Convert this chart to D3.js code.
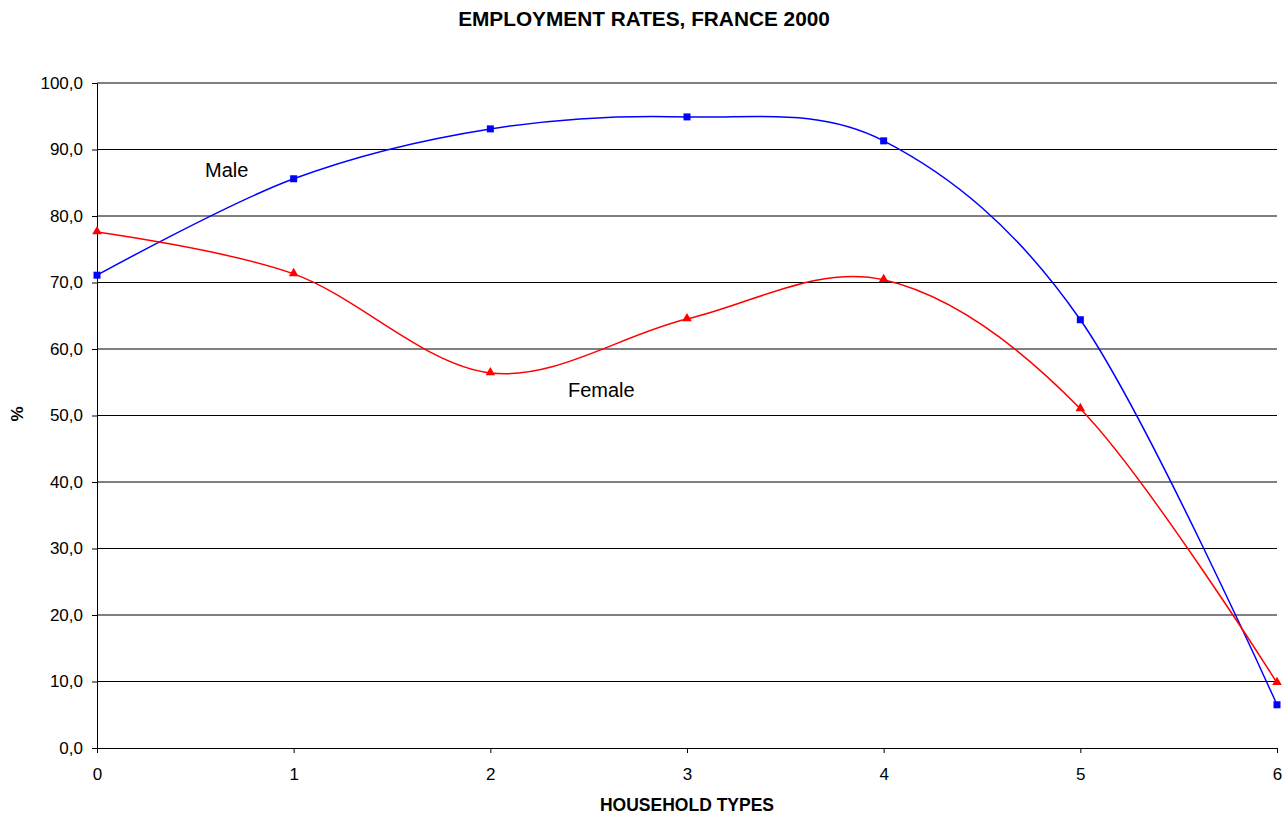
<!DOCTYPE html>
<html>
<head>
<meta charset="utf-8">
<script src="https://cdn.jsdelivr.net/npm/d3@7"></script>
<style>
  body { margin: 0; background: #fff; font-family: "Liberation Sans", Arial, sans-serif; }
</style>
</head>
<body>
<div id="chart"></div>
<script>
// data
var householdTypes = [0, 1, 2, 3, 4, 5, 6];
var maleRates   = [71.1, 85.6, 93.1, 94.9, 91.3, 64.4, 6.5];
var femaleRates = [77.6, 71.3, 56.4, 64.5, 70.4, 51.0, 9.8];
var yTicks = [0, 10, 20, 30, 40, 50, 60, 70, 80, 90, 100];

var W = 1287, H = 814;
var margin = {top: 83, right: 10, bottom: 66, left: 97},
    width = W - margin.left - margin.right,
    height = H - margin.top - margin.bottom;

var svg = d3.select("#chart")
  .append("svg")
    .attr("width", W)
    .attr("height", H);

var g = svg.append("g")
    .attr("transform", "translate(" + margin.left + "," + margin.top + ")");

var x = d3.scaleLinear().domain([0, 6]).range([0, 1180]);
var y = d3.scaleLinear().domain([0, 100]).range([height, 0]);

var fmt = function(d) { return d3.format(".1f")(d).replace(".", ","); };

// gridlines
g.selectAll(".grid")
  .data(yTicks.slice(1))
  .enter()
  .append("line")
    .attr("x1", 0)
    .attr("x2", x(6))
    .attr("y1", function(d) { return y(d); })
    .attr("y2", function(d) { return y(d); })
    .attr("stroke", "#000")
    .attr("stroke-width", 1);

// Y axis
var yAxis = g.append("g")
  .call(d3.axisLeft(y).tickValues(yTicks).tickFormat(fmt).tickSizeOuter(0).tickSize(5).tickPadding(9));
yAxis.selectAll("text").style("font-size", "17px").style("font-family", "Liberation Sans, Arial, sans-serif").attr("fill", "#000");

// X axis
var xAxis = g.append("g")
  .attr("transform", "translate(0," + height + ")")
  .call(d3.axisBottom(x).tickValues(householdTypes).tickFormat(d3.format("d")).tickSizeOuter(0).tickSize(5).tickPadding(15));
xAxis.selectAll("text").style("font-size", "17px").style("font-family", "Liberation Sans, Arial, sans-serif").attr("fill", "#000");

svg.selectAll(".domain").attr("stroke", "#000");

// smooth lines
var line = d3.line()
  .x(function(d, i) { return x(householdTypes[i]); })
  .y(function(d) { return y(d); })
  .curve(d3.curveCardinal.tension(0));

g.append("path")
  .datum(maleRates)
  .attr("d", line)
  .attr("fill", "none")
  .attr("stroke", "#0000FF")
  .attr("stroke-width", 1.5);

g.append("path")
  .datum(femaleRates)
  .attr("d", line)
  .attr("fill", "none")
  .attr("stroke", "#FF0000")
  .attr("stroke-width", 1.5);

// markers
g.selectAll(".mMale")
  .data(maleRates)
  .enter()
  .append("rect")
    .attr("x", function(d, i) { return x(householdTypes[i]) - 3.5; })
    .attr("y", function(d) { return y(d) - 3.5; })
    .attr("width", 7)
    .attr("height", 7)
    .attr("fill", "#0000FF");

var tri = d3.symbol().type(d3.symbolTriangle).size(40);
g.selectAll(".mFemale")
  .data(femaleRates)
  .enter()
  .append("path")
    .attr("d", tri)
    .attr("transform", function(d, i) { return "translate(" + x(householdTypes[i]) + "," + (y(d) - 0.5) + ")"; })
    .attr("fill", "#FF0000");

// series labels
svg.append("text")
  .attr("x", 205).attr("y", 177)
  .style("font-size", "20px")
  .text("Male");

svg.append("text")
  .attr("x", 568).attr("y", 397)
  .style("font-size", "20px")
  .text("Female");

// title
svg.append("text")
  .attr("x", 644).attr("y", 26)
  .attr("text-anchor", "middle")
  .style("font-size", "20.8px")
  .style("font-weight", "bold")
  .text("EMPLOYMENT RATES, FRANCE 2000");

// axis titles
svg.append("text")
  .attr("x", 687).attr("y", 811)
  .attr("text-anchor", "middle")
  .style("font-size", "17.5px")
  .style("font-weight", "bold")
  .text("HOUSEHOLD TYPES");

svg.append("text")
  .attr("transform", "translate(23,414)rotate(-90)")
  .attr("text-anchor", "middle")
  .style("font-size", "17px")
  .style("font-weight", "bold")
  .text("%");
</script>
</body>
</html>
